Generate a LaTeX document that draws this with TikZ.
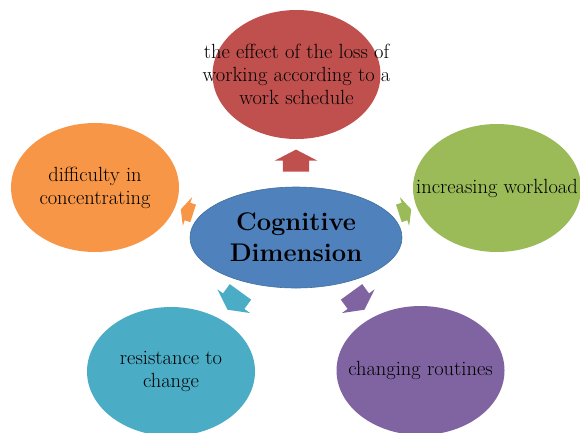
\documentclass[tikz,border=0pt]{standalone}
\usetikzlibrary{shapes.geometric,shapes.arrows}
\definecolor{cred}{HTML}{C0504D}
\definecolor{cgreen}{HTML}{9BBB59}
\definecolor{corange}{HTML}{F79646}
\definecolor{cteal}{HTML}{4BACC6}
\definecolor{cpurple}{HTML}{8064A2}
\definecolor{cblue}{HTML}{4F81BD}
\definecolor{cblueline}{HTML}{41719C}
\begin{document}
\begin{tikzpicture}[x=1pt,y=-1pt,
  bubble/.style={ellipse, inner sep=0pt, minimum width=168pt, minimum height=129pt},
  label text/.style={inner sep=0pt, text=black, font=\fontsize{20.5}{23}\selectfont, align=center},
  ray/.style={single arrow, draw=none, inner xsep=0pt, text height=0pt, text depth=0pt,
    single arrow head indent=0pt},
  bigray/.style={ray, minimum height=22pt, inner ysep=13pt,
    single arrow head extend=8pt, single arrow tip angle=125},
  smallray/.style={ray, minimum height=13pt, inner ysep=9pt,
    single arrow head extend=6pt, single arrow tip angle=130}]
\useasboundingbox (0,0) rectangle (580,432);
% arrows
\node[bigray, fill=cred, rotate=90] (a1) at (296,164) {};
\node[smallray, fill=cgreen, rotate=18] (a2) at (403,212) {};
\node[smallray, fill=corange, rotate=162] (a3) at (189,212) {};
\node[bigray, single arrow head extend=7pt, fill=cteal, rotate=234] (a4) at (236,298) {};
\node[bigray, single arrow head extend=7pt, fill=cpurple, rotate=-54] (a5) at (356,298) {};
% outer ellipses
\node[bubble, fill=cred] (top) at (296.5,74.5) {};
\node[label text] (topt) at (top) {the effect of the loss of\\working according to a\\work schedule};
\node[bubble, fill=cgreen, minimum height=128pt] (right) at (497,188) {};
\node[label text] (rightt) at (right) {increasing workload};
\node[bubble, fill=corange] (left) at (95,187.5) {};
\node[label text] (leftt) at (left) {difficulty in\\concentrating};
\node[bubble, fill=cteal] (bl) at (171,371.5) {};
\node[label text] (blt) at (bl) {resistance to\\change};
\node[bubble, fill=cpurple] (br) at (420.5,370.5) {};
\node[label text] (brt) at (br) {changing routines};
% centre
\node[ellipse, inner sep=0pt, minimum width=212pt, minimum height=101pt,
  fill=cblue, draw=cblueline, line width=0.6pt] (c) at (296,237.5) {};
\node[inner sep=0pt, align=center, text=black,
  font=\bfseries\fontsize{25.5}{31}\selectfont] (ct) at (c) {Cognitive\\Dimension};
\end{tikzpicture}
\end{document}
